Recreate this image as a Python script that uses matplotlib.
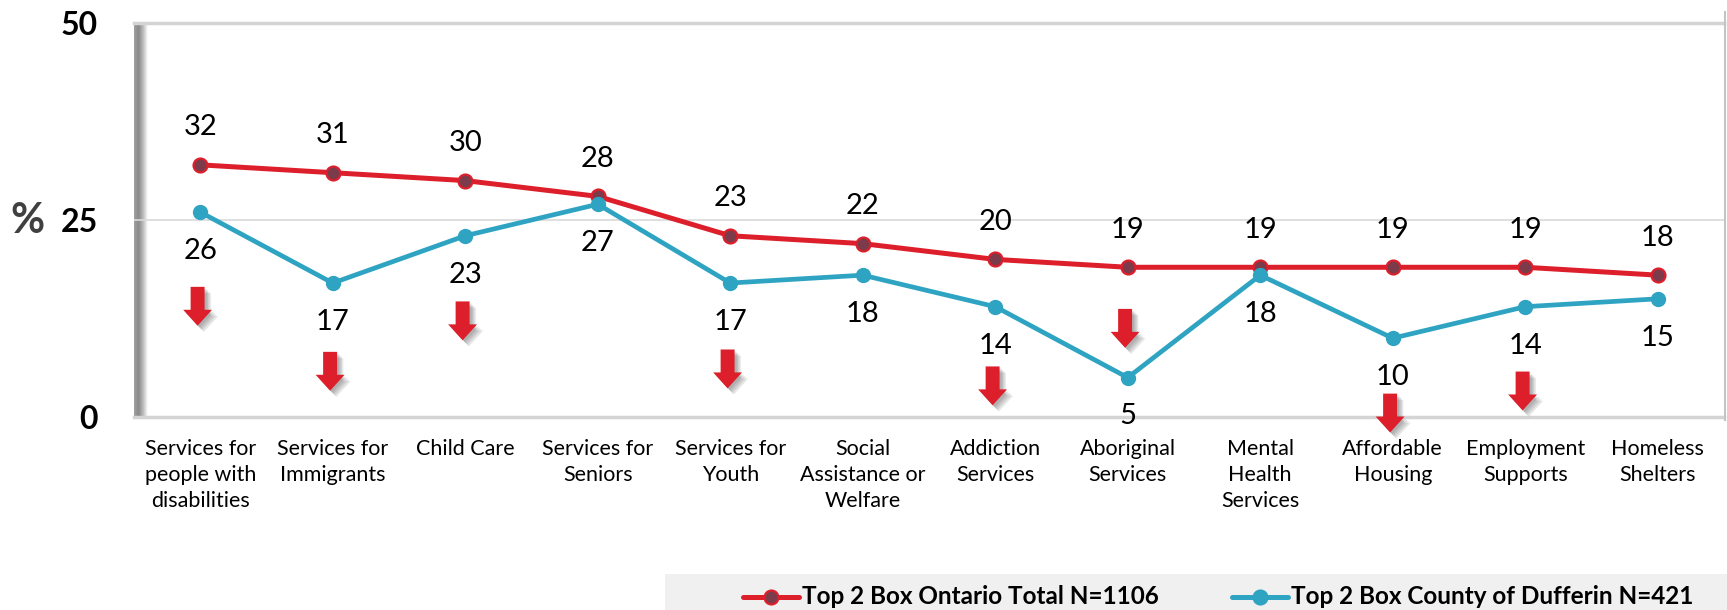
import numpy as np
import matplotlib
matplotlib.use("Agg")
import matplotlib.pyplot as plt
from matplotlib.path import Path
from matplotlib.lines import Line2D
from matplotlib.patches import Rectangle
from matplotlib.colors import LinearSegmentedColormap
import matplotlib.patheffects as pe

# ---- data -------------------------------------------------------------
categories = [
    "Services for\npeople with\ndisabilities",
    "Services for\nImmigrants",
    "Child Care",
    "Services for\nSeniors",
    "Services for\nYouth",
    "Social\nAssistance or\nWelfare",
    "Addiction\nServices",
    "Aboriginal\nServices",
    "Mental\nHealth\nServices",
    "Affordable\nHousing",
    "Employment\nSupports",
    "Homeless\nShelters",
]
ontario = [32, 31, 30, 28, 23, 22, 20, 19, 19, 19, 19, 18]
dufferin = [26, 17, 23, 27, 17, 18, 14, 5, 18, 10, 14, 15]
y_ticks = [0, 25, 50]
ontario_name = "Top 2 Box Ontario Total N=1106"
dufferin_name = "Top 2 Box County of Dufferin N=421"

# categories where Dufferin is significantly lower than Ontario
lower_idx = [0, 1, 2, 4, 6, 7, 9, 10]
# vertical placement of each down-arrow flag (in % units)
arrow_y = [14.05, 5.8, 12.2, 6.1, 3.95, 11.25, 0.5, 3.3]

# ---- style ------------------------------------------------------------
RED = "#DC1F2B"
MAROON = "#7B3B4B"
TEAL = "#2FA4C2"
W, H = 1727, 610

plt.rcParams["font.family"] = ["Lato", "DejaVu Sans"]

fig = plt.figure(figsize=(W / 100, H / 100), dpi=100)
ax = fig.add_axes([134 / W, 1 - 417 / H, (1724 - 134) / W, (417 - 23) / H])
x = np.arange(len(categories))

for s in ax.spines.values():
    s.set_visible(False)

# plot frame: shaded left wall, top/bottom rules, mid grid line
shade = LinearSegmentedColormap.from_list(
    "wall", ["#a0a0a0", "#8a8a8a", "#bdbdbd", "#ffffff"])
ax.imshow(np.linspace(0, 1, 64)[None, :], extent=(-0.5, -0.5 + 14 / 132.5, 0, 50),
          aspect="auto", cmap=shade, zorder=0.5)
ax.axhline(25, color="#d9d9d9", lw=1.2, zorder=1)
ax.axhline(50, color="#d4d4d4", lw=2.5, zorder=1, clip_on=False)
ax.axhline(0, color="#d4d4d4", lw=2.5, zorder=1, clip_on=False)
fig.add_artist(Line2D([1724.5 / W] * 2, [1 - 12 / H, 1 - 420 / H],
                      color="#c4c4c4", lw=1.5))

# series
ax.plot(x, ontario, color=RED, lw=3.6, marker="o", ms=10,
        mfc=MAROON, mec=RED, mew=1.6, zorder=4)
ax.plot(x, dufferin, color=TEAL, lw=3.4, marker="o", ms=10,
        mfc=TEAL, mec=TEAL, zorder=5)

for xi, v in zip(x, ontario):
    ax.annotate(f"{v}", (xi, v), xytext=(0, 27), textcoords="offset points",
                ha="center", va="center", fontsize=21, color="black")
for xi, v in zip(x, dufferin):
    ax.annotate(f"{v}", (xi, v), xytext=(0, -28), textcoords="offset points",
                ha="center", va="center", fontsize=21, color="black")

# down-arrow flags with a soft drop shadow
verts = np.array([(-7, 19.5), (7, 19.5), (7, -3.5), (14.5, -3.5),
                  (0, -19.5), (-14.5, -3.5), (-7, -3.5), (-7, 19.5)]) / 39.0
codes = [Path.MOVETO] + [Path.LINETO] * 6 + [Path.CLOSEPOLY]
arrow = Path(verts, codes)
shadow = [pe.SimplePatchShadow(offset=(o, -o), shadow_rgbFace="#404040", alpha=0.12)
          for o in (1.5, 2.5, 3.5, 4.5)]
ax.plot(x[lower_idx] - 0.02, arrow_y, ls="none", marker=arrow, ms=28,
        mfc=RED, mec="none", clip_on=False, zorder=6,
        path_effects=shadow + [pe.Normal()])

ax.set_xlim(-0.5, 11.5)
ax.set_ylim(0, 50)

# axes labels
ax.set_yticks(y_ticks)
ax.set_yticklabels([str(t) for t in y_ticks], fontsize=23, fontweight="bold")
ax.tick_params(axis="y", length=0, pad=26)
ax.set_xticks(x)
ax.set_xticklabels(categories, fontsize=15.5)
ax.tick_params(axis="x", length=0, pad=15.5)
for lbl in ax.get_xticklabels():
    lbl.set_linespacing(1.38)

fig.text(27.5 / W, 1 - 221 / H, "%", fontsize=30, fontweight="bold",
         color="#404040", ha="center", va="center")

# legend strip
fig.add_artist(Rectangle((665 / W, 0), 1 - 665 / W, 36 / H,
                         transform=fig.transFigure, facecolor="#f0f0f0",
                         edgecolor="none"))
ly = 1 - 597 / H
for (x0, x1, col, face, name) in [(743, 799, RED, MAROON, ontario_name),
                                  (1232, 1288, TEAL, TEAL, dufferin_name)]:
    fig.add_artist(Line2D([x0 / W, x1 / W], [ly, ly], color=col, lw=3.6,
                          solid_capstyle="round"))
    fig.add_artist(Line2D([(x0 + x1) / 2 / W], [ly], marker="o", ms=10,
                          mfc=face, mec=col, mew=1.6))
    fig.text((x1 + 3) / W, ly, name, fontsize=17.5, fontweight="bold",
             color="black", ha="left", va="center")

fig.savefig("out.png", dpi=100)
